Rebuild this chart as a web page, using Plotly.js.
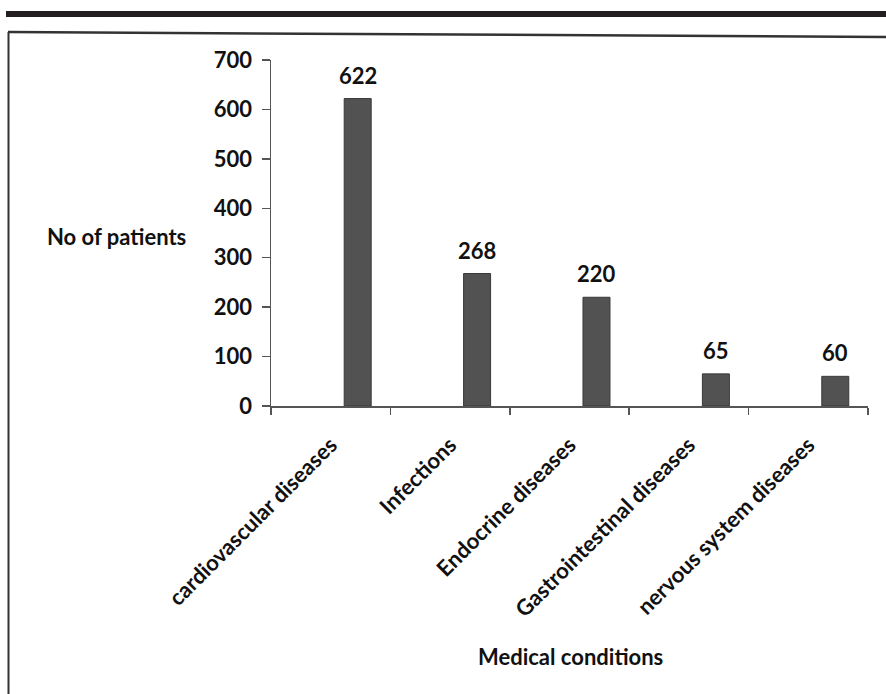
<!DOCTYPE html>
<html>
<head>
<meta charset="utf-8">
<script src="https://cdn.plot.ly/plotly-3.0.1.min.js"></script>
<style>
  html, body { margin: 0; padding: 0; background: #ffffff; }
  #chart { width: 886px; height: 694px; }
</style>
</head>
<body>
<div id="chart"></div>
<script>
// ---- data ----
const categories = ["cardiovascular diseases", "Infections", "Endocrine diseases", "Gastrointestinal diseases", "nervous system diseases"];
const patients = [622, 268, 220, 65, 60];
const yTickValues = [0, 100, 200, 300, 400, 500, 600, 700];
const xTitle = "Medical conditions";
const yTitle = "No of patients";

const FONT = "Lato, 'Open Sans', 'DejaVu Sans', sans-serif";
const INK = "#111111";
const AXIS = "#555555";
const FS = 22;

// plot area in pixels (used only for the page decorations / title placement)
const PL = 271, PR = 868, PT = 60, PB = 406;
const PW = PR - PL, PH = PB - PT;
const px = p => (p - PL) / PW;
const py = p => (PB - p) / PH;

const BAR_W = 0.226;
const BAR_OFF = 0.113;

const trace = {
  type: "bar",
  x: categories,
  y: patients,
  width: BAR_W,
  offset: BAR_OFF,
  marker: { color: "#525252", line: { color: "#393939", width: 1 } },
  hoverinfo: "x+y"
};

const labelAnnotations = patients.map((v, i) => ({
  x: i + BAR_OFF + BAR_W / 2,
  y: v,
  xref: "x",
  yref: "y",
  text: String(v),
  showarrow: false,
  xanchor: "center",
  yanchor: "bottom",
  yshift: 8,
  font: { family: FONT, size: FS, color: INK, weight: 700 }
}));

const layout = {
  width: 886,
  height: 694,
  paper_bgcolor: "#ffffff",
  plot_bgcolor: "#ffffff",
  showlegend: false,
  margin: { l: PL, r: 886 - PR, t: PT, b: 694 - PB, pad: 0 },
  font: { family: FONT, size: FS, color: INK, weight: 700 },
  xaxis: {
    type: "category",
    range: [-0.5, 4.5],
    showline: true,
    linecolor: AXIS,
    linewidth: 1.5,
    ticks: "outside",
    tickson: "boundaries",
    ticklen: 7,
    tickwidth: 1.5,
    tickcolor: AXIS,
    tickangle: -45,
    ticklabelstandoff: 16,
    showgrid: false,
    zeroline: false,
    tickfont: { family: FONT, size: FS, color: INK, weight: 700 },
    automargin: false
  },
  yaxis: {
    range: [0, 700],
    tickvals: yTickValues,
    showline: true,
    linecolor: AXIS,
    linewidth: 1.5,
    ticks: "outside",
    ticklen: 8,
    tickwidth: 1.5,
    tickcolor: AXIS,
    ticklabelstandoff: 5,
    showgrid: false,
    zeroline: false,
    tickfont: { family: FONT, size: FS, color: INK, weight: 700 },
    automargin: false
  },
  annotations: labelAnnotations.concat([
    {
      xref: "paper", yref: "paper",
      x: px(188), y: py(236),
      text: yTitle,
      showarrow: false,
      xanchor: "right",
      yanchor: "middle",
      font: { family: FONT, size: FS, color: INK, weight: 700 }
    },
    {
      xref: "paper", yref: "paper",
      x: px(570), y: py(656),
      text: xTitle,
      showarrow: false,
      xanchor: "center",
      yanchor: "middle",
      font: { family: FONT, size: FS, color: INK, weight: 700 }
    }
  ]),
  shapes: [
    { type: "rect", xref: "paper", yref: "paper",
      x0: px(6), x1: px(890), y0: py(11), y1: py(17),
      fillcolor: "#231f20", line: { width: 0 } },
    { type: "line", xref: "paper", yref: "paper",
      x0: px(8), x1: px(890), y0: py(32), y1: py(37),
      line: { color: "#333333", width: 2.5 } },
    { type: "line", xref: "paper", yref: "paper",
      x0: px(8.5), x1: px(8.5), y0: py(32), y1: py(700),
      line: { color: "#333333", width: 2 } }
  ]
};

Plotly.newPlot("chart", [trace], layout, { displayModeBar: false, staticPlot: true });
</script>
</body>
</html>
